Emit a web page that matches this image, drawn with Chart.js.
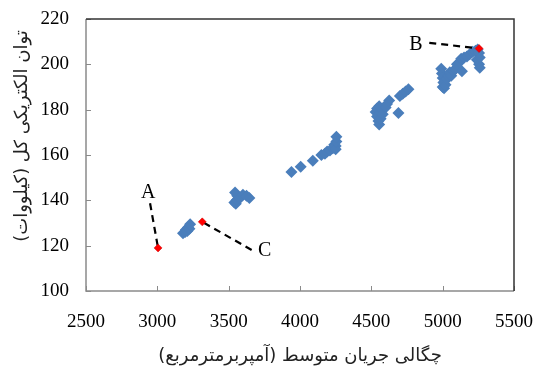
<!DOCTYPE html>
<html>
<head>
<meta charset="utf-8">
<script src="https://cdn.jsdelivr.net/npm/chart.js@4/dist/chart.umd.min.js"></script>
<style>
html,body{margin:0;padding:0;background:#fff;}
#wrap{width:533px;height:370px;position:relative;}
</style>
</head>
<body>
<div id="wrap"><canvas id="c" width="533" height="370"></canvas></div>
<script>
// Measured data (blue diamonds)
const currentDensity = [
  3180,3195,3200,3210,3215,3225,3230,
  3540,3545,3550,3555,3560,3580,3600,3625,3645,
  3940,4005,4090,4150,4175,4190,4210,4230,4240,4250,4250,4255,4255,
  4530,4540,4540,4550,4555,4555,4565,4580,4600,4610,4625,4690,4700,4720,4740,4760,
  4990,4995,5000,5000,5005,5010,5020,5030,5040,5050,5060,5075,5090,5100,5120,5130,5135,5150,5170,5190,5210,5230,5240,5245,5255,5255,5260,5260
];
const totalPower = [
  125.5,126,127,126.5,128,127.5,129.5,
  139,143.5,138.5,140,142,141,142.5,142,141,
  152.5,154.8,157.5,160,160.5,161.5,162,163,164.5,164,162.5,166,168,
  179,180.5,177,175,181.5,173.5,176,178,181,182.5,184,178.5,186,187,188,189,
  198,196,194,190,192,189.5,191,193.5,195,196.5,195,197,198,200,201,202.5,197,203,203.5,204.5,205.5,206,202,206.5,205,200,203,198.5
];
// Highlighted points A, B, C
const markLabels = ['A','B','C'];
const markedX = [3005, 5255, 3315];
const markedY = [119, 207, 130.5];
// Leader line far ends and label anchors (data units)
const leaderEndX = [2949, 4906, 3661];
const leaderEndY = [138.7, 209.5, 118.1];
const labelX = [2936, 4813, 3752];
const labelY = [143.4, 208.5, 117.6];
// Axis ticks
const xTicks = [2500,3000,3500,4000,4500,5000,5500];
const yTicks = [100,120,140,160,180,200,220];
const xTitle = '\u200F' + 'چگالی جریان متوسط (آمپربرمترمربع)' + '\u200F';
const yTitle = '\u200F' + 'توان الکتریکی کل (کیلووات)' + '\u200F';

const bluePts = currentDensity.map((x,i)=>({x:x,y:totalPower[i]}));
const redPts = markedX.map((x,i)=>({x:x,y:markedY[i]}));
const leaderSets = markedX.map((x,i)=>({
  type:'scatter',
  data:[{x:leaderEndX[i],y:leaderEndY[i]},{x:x,y:markedY[i]}],
  showLine:true, borderColor:'#000', borderWidth:2.2, borderDash:[7,5],
  pointRadius:0, fill:false
}));

const frame = {
  id:'frame',
  afterDatasetsDraw(chart){
    const {ctx, chartArea:a, scales:{x,y}} = chart;
    ctx.save();
    ctx.strokeStyle = '#8a8a8a'; ctx.lineWidth = 1;
    ctx.beginPath();
    yTicks.forEach(v=>{ const py = Math.round(y.getPixelForValue(v))+0.5; ctx.moveTo(a.left, py); ctx.lineTo(a.left+5, py); });
    xTicks.forEach(v=>{ const px = Math.round(x.getPixelForValue(v))+0.5; ctx.moveTo(px, a.bottom); ctx.lineTo(px, a.bottom-5); });
    ctx.stroke();
    ctx.beginPath();
    ctx.strokeStyle = '#8a8a8a'; ctx.lineWidth = 1.5;
    ctx.moveTo(a.left, a.top); ctx.lineTo(a.left, a.bottom); ctx.lineTo(a.right, a.bottom);
    ctx.stroke();
    ctx.beginPath();
    ctx.strokeStyle = '#333'; ctx.lineWidth = 1.5;
    ctx.moveTo(a.left, a.top); ctx.lineTo(a.right, a.top); ctx.lineTo(a.right, a.bottom);
    ctx.stroke();
    // A, B, C labels
    ctx.fillStyle = '#000';
    ctx.font = '20px "Liberation Serif"';
    ctx.textAlign = 'center'; ctx.textBaseline = 'middle';
    markLabels.forEach((t,i)=>{ ctx.fillText(t, x.getPixelForValue(labelX[i]), y.getPixelForValue(labelY[i])); });
    // axis titles
    ctx.font = '18px "DejaVu Sans"';
    ctx.fillStyle = '#222';
    ctx.fillText(xTitle, (a.left + a.right)/2, 356);
    ctx.translate(22, 136);
    ctx.rotate(-Math.PI/2);
    ctx.fillText(yTitle, 0, 0);
    ctx.restore();
  }
};

new Chart(document.getElementById('c'), {
  type:'scatter',
  data:{ datasets:[
    { data:redPts, pointStyle:'rectRot', pointRadius:4, backgroundColor:'#ff0000', borderColor:'#cc0000', borderWidth:0.5 },
    ...leaderSets,
    { data:bluePts, pointStyle:'rectRot', pointRadius:6, backgroundColor:'#4a7ebb', borderColor:'#4a7ebb', borderWidth:0 }
  ]},
  options:{
    responsive:false, animation:false, devicePixelRatio:1,
    layout:{ padding:{ left:0, right:19, top:19, bottom:0 } },
    plugins:{ legend:{display:false}, tooltip:{enabled:false} },
    scales:{
      x:{ type:'linear', min:2500, max:5500,
        afterBuildTicks(s){ s.ticks = xTicks.map(v=>({value:v})); },
        afterFit(s){ s.height = 79; s.paddingLeft = 0; s.paddingRight = 0; },
        grid:{ display:false, drawTicks:false }, border:{ display:false },
        ticks:{ padding:20, color:'#000', font:{ family:'"Liberation Serif"', size:19 }, callback:v=>String(v) },
        title:{ display:false }
      },
      y:{ type:'linear', min:100, max:220,
        afterBuildTicks(s){ s.ticks = yTicks.map(v=>({value:v})); },
        afterFit(s){ s.width = 86; s.paddingTop = 0; s.paddingBottom = 0; },
        grid:{ display:false, drawTicks:false }, border:{ display:false },
        ticks:{ padding:17, color:'#000', font:{ family:'"Liberation Serif"', size:19 }, callback:v=>String(v) },
        title:{ display:false }
      }
    }
  },
  plugins:[frame]
});
</script>
</body>
</html>
